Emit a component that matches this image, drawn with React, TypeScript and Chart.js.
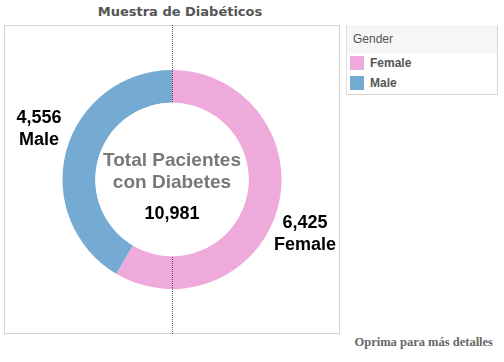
import React, { useEffect, useRef } from "react";
import { Chart, registerables } from "chart.js";

Chart.register(...registerables);

const categories = ["Female", "Male"];
const patients = [6425, 4556];
const colors = ["#eeaadb", "#75aad2"];
const centerTitle = ["Total Pacientes", "con Diabetes"];
const chartTitle = "Muestra de Diabéticos";
const legendTitle = "Gender";
const footerText = "Oprima para más detalles";

const fmt = (n: number) => n.toLocaleString("en-US");

const overlayPlugin = {
  id: "overlay",
  afterDatasetsDraw(chart: any) {
    const ctx = chart.ctx;
    const meta = chart.getDatasetMeta(0);
    const data = chart.data.datasets[0].data as number[];
    const labels = chart.data.labels as string[];
    const a = meta.data[0];
    if (!a) return;
    ctx.save();
    // dotted reference line
    ctx.strokeStyle = "rgba(30,30,30,0.7)";
    ctx.lineWidth = 1;
    ctx.setLineDash([1, 1]);
    const x = Math.round(a.x) + 0.5;
    ctx.beginPath();
    ctx.moveTo(x, 0);
    ctx.lineTo(x, chart.height);
    ctx.stroke();
    ctx.setLineDash([]);
    // hole
    ctx.fillStyle = "#fff";
    ctx.beginPath();
    ctx.arc(a.x, a.y, a.innerRadius, 0, Math.PI * 2);
    ctx.fill();

    ctx.textAlign = "center";
    ctx.textBaseline = "middle";
    meta.data.forEach((el: any, i: number) => {
      const mid = (el.startAngle + el.endAngle) / 2;
      const lx = el.x + Math.cos(mid) * el.outerRadius * 1.26;
      const ly = el.y + Math.sin(mid) * el.outerRadius * 1.8 + 2;
      ctx.fillStyle = "#000";
      ctx.font = "bold 18px 'Liberation Sans', Arial, sans-serif";
      ctx.fillText(fmt(data[i]), lx, ly - 11);
      ctx.fillText(labels[i], lx, ly + 11);
    });
    const total = data.reduce((s, v) => s + v, 0);
    ctx.fillStyle = "#777";
    ctx.font = "bold 19px 'Liberation Sans', Arial, sans-serif";
    ctx.fillText(centerTitle[0], a.x, a.y - 19);
    ctx.fillText(centerTitle[1], a.x, a.y + 3);
    ctx.fillStyle = "#000";
    ctx.font = "bold 18px 'Liberation Sans', Arial, sans-serif";
    ctx.fillText(fmt(total), a.x, a.y + 35);
    ctx.restore();
  },
};

export default function App() {
  const ref = useRef<HTMLCanvasElement | null>(null);
  useEffect(() => {
    if (!ref.current) return;
    const chart = new Chart(ref.current, {
      type: "doughnut",
      data: {
        labels: categories,
        datasets: [
          {
            data: patients,
            backgroundColor: colors,
            borderWidth: 0,
          },
        ],
      },
      options: {
        animation: false,
        responsive: false,
        maintainAspectRatio: false,
        cutout: "70%",
        layout: { padding: { top: 45, bottom: 45, left: 0, right: 0 } },
        plugins: {
          legend: { display: false },
          tooltip: { enabled: false },
          title: { display: false },
        },
      },
      plugins: [overlayPlugin],
    });
    return () => chart.destroy();
  }, []);

  const sans = "'Liberation Sans', Arial, sans-serif";
  return (
    <div
      style={{
        position: "fixed",
        left: 0,
        top: 0,
        width: 504,
        height: 362,
        background: "#fff",
        overflow: "hidden",
      }}
    >
      <div
        style={{
          position: "absolute",
          left: 0,
          width: 360,
          top: 4,
          textAlign: "center",
          font: "bold 13px 'DejaVu Sans', Verdana, sans-serif",
          color: "#555",
        }}
      >
        {chartTitle}
      </div>
      <div
        style={{
          position: "absolute",
          left: 4,
          top: 25,
          width: 334,
          height: 307,
          border: "1px solid #d4d4d4",
        }}
      />
      <canvas
        ref={ref}
        width={336}
        height={309}
        style={{ position: "absolute", left: 4, top: 25, width: 336, height: 309 }}
      />
      <div
        style={{
          position: "absolute",
          left: 346,
          top: 25,
          width: 150,
          height: 69,
          border: "1px solid #d4d4d4",
          borderLeft: "1px solid #e0e0e0",
          borderTop: "none",
          background: "#fff",
        }}
      >
        <div
          style={{
            height: 28,
            background: "#f6f6f6",
            font: `12px ${sans}`,
            color: "#555",
            lineHeight: "29px",
            paddingLeft: 6,
          }}
        >
          {legendTitle}
        </div>
        {categories.map((c, i) => (
          <div
            key={c}
            style={{
              display: "flex",
              alignItems: "center",
              height: 20,
              paddingLeft: 3,
            }}
          >
            <span
              style={{
                display: "inline-block",
                width: 14,
                height: 14,
                background: colors[i],
                marginRight: 6,
              }}
            />
            <span style={{ font: `bold 12px ${sans}`, color: "#555" }}>{c}</span>
          </div>
        ))}
      </div>
      <div
        style={{
          position: "absolute",
          right: 11,
          top: 335,
          font: "bold 12.5px 'Liberation Serif', 'Times New Roman', serif",
          color: "#666",
        }}
      >
        {footerText}
      </div>
    </div>
  );
}
